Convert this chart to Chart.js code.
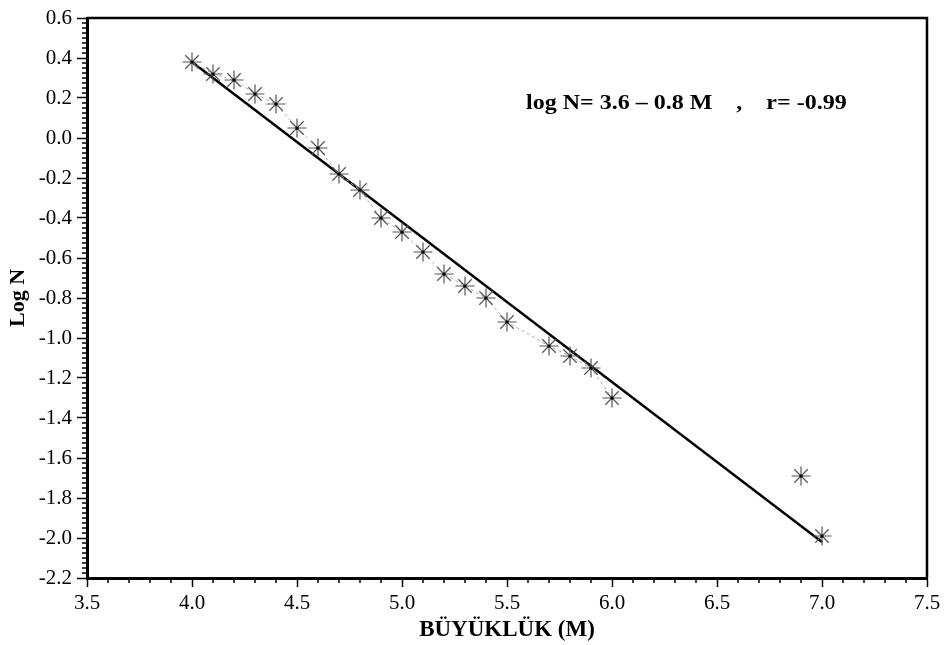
<!DOCTYPE html>
<html>
<head>
<meta charset="utf-8">
<script src="https://cdn.jsdelivr.net/npm/chart.js@4.4.1/dist/chart.umd.min.js"></script>
<style>
  html, body { margin: 0; padding: 0; background: #fff; }
  #wrap { width: 945px; height: 645px; }
</style>
</head>
<body>
<div id="wrap"><canvas id="c" width="945" height="645"></canvas></div>
<script>
// ---- data ----
const magnitudes = [4.0, 4.1, 4.2, 4.3, 4.4, 4.5, 4.6, 4.7, 4.8, 4.9, 5.0, 5.1, 5.2, 5.3, 5.4, 5.5, 5.7, 5.8, 5.9, 6.0, 6.9, 7.0];
const logN       = [0.38, 0.32, 0.29, 0.22, 0.17, 0.05, -0.05, -0.18, -0.26, -0.40, -0.47, -0.57, -0.68, -0.74, -0.80, -0.92, -1.04, -1.09, -1.15, -1.30, -1.69, -1.99];
const fitM       = [4.0, 7.0];
const fitLogN    = [0.38, -2.02];
const xTicks     = [3.5, 4.0, 4.5, 5.0, 5.5, 6.0, 6.5, 7.0, 7.5];
const yTicks     = [0.6, 0.4, 0.2, 0.0, -0.2, -0.4, -0.6, -0.8, -1.0, -1.2, -1.4, -1.6, -1.8, -2.0, -2.2];
const xTitle     = 'BÜYÜKLÜK (M)';
const yTitle     = 'Log N';
const annotation = 'log N= 3.6 – 0.8 M    ,    r= -0.99';
const connectedCount = 20; // observations joined by the faint dashed line (4.0 … 6.0)

const pts = magnitudes.map((m, i) => ({ x: m, y: logN[i] }));
const fitPts = fitM.map((m, i) => ({ x: m, y: fitLogN[i] }));

const SERIF = '"Liberation Serif", "Times New Roman", serif';

const framePlugin = {
  id: 'frame',
  afterDraw(chart) {
    const { ctx, chartArea: a, scales } = chart;
    const xs = scales.x, ys = scales.y;
    ctx.save();
    ctx.strokeStyle = '#000';
    // minor ticks
    ctx.lineWidth = 1.5;
    ctx.beginPath();
    for (let i = 35; i <= 75; i++) {
      if (i % 5 === 0) continue;
      const px = xs.getPixelForValue(i / 10);
      ctx.moveTo(px, a.bottom);
      ctx.lineTo(px, a.bottom + 5);
    }
    for (let i = -88; i <= 24; i++) {
      if (i % 8 === 0) continue;
      const py = ys.getPixelForValue(i / 40);
      ctx.moveTo(a.left - 5, py);
      ctx.lineTo(a.left, py);
    }
    ctx.stroke();
    // top and right frame
    ctx.lineWidth = 2.5;
    ctx.beginPath();
    ctx.moveTo(a.left, a.top);
    ctx.lineTo(a.right, a.top);
    ctx.lineTo(a.right, a.bottom);
    ctx.stroke();
    // annotation text
    ctx.fillStyle = '#000';
    ctx.font = 'bold 20px ' + SERIF;
    ctx.textBaseline = 'alphabetic';
    ctx.textAlign = 'left';
    ctx.translate(526, 109);
    ctx.scale(1.2, 1);
    ctx.fillText(annotation, 0, 0);
    ctx.restore();
  }
};

new Chart(document.getElementById('c'), {
  type: 'scatter',
  data: {
    datasets: [
      {
        label: 'fit',
        type: 'line',
        data: fitPts,
        borderColor: '#000',
        borderWidth: 2.5,
        pointRadius: 0,
        fill: false,
        order: 3
      },
      {
        label: 'connector',
        type: 'line',
        data: pts.slice(0, connectedCount),
        borderColor: '#a8a8a8',
        borderWidth: 1,
        borderDash: [3, 3],
        pointRadius: 0,
        fill: false,
        tension: 0,
        order: 2
      },
      {
        label: 'observed',
        data: pts,
        pointStyle: 'star',
        pointRadius: 9.5,
        pointBorderColor: '#555',
        pointBackgroundColor: '#555',
        pointBorderWidth: 1.2,
        showLine: false,
        order: 1
      },
      {
        label: 'centres',
        data: pts,
        pointStyle: 'circle',
        pointRadius: 1.6,
        pointBorderWidth: 0,
        pointBackgroundColor: '#000',
        showLine: false,
        order: 0
      }
    ]
  },
  options: {
    responsive: false,
    animation: false,
    events: [],
    layout: { padding: { left: 0, top: 18, right: 18, bottom: 1 } },
    plugins: { legend: { display: false }, tooltip: { enabled: false } },
    scales: {
      x: {
        type: 'linear',
        min: 3.5, max: 7.5,
        afterBuildTicks: s => { s.ticks = xTicks.map(v => ({ value: v })); },
        afterFit: s => { s.height = 66; },
        ticks: {
          callback: v => Number(v).toFixed(1),
          font: { family: SERIF, size: 21 },
          color: '#000',
          padding: 4,
          maxRotation: 0
        },
        grid: { drawOnChartArea: false, tickLength: 9, tickColor: '#000', tickWidth: 1.5 },
        border: { color: '#000', width: 3 },
        title: {
          display: true, text: xTitle, color: '#000',
          font: { family: SERIF, size: 23, weight: 'bold' },
          padding: { top: 0, bottom: 0 }
        }
      },
      y: {
        type: 'linear',
        min: -2.2, max: 0.6,
        afterBuildTicks: s => { s.ticks = yTicks.map(v => ({ value: v })); },
        afterFit: s => { s.width = 87; },
        ticks: {
          callback: v => Number(v).toFixed(1),
          font: { family: SERIF, size: 21 },
          color: '#000',
          padding: 5
        },
        grid: { drawOnChartArea: false, tickLength: 10, tickColor: '#000', tickWidth: 1.5 },
        border: { color: '#000', width: 3 },
        title: {
          display: true, text: yTitle, color: '#000',
          font: { family: SERIF, size: 22, weight: 'bold' },
          padding: { top: 5, bottom: 0 }
        }
      }
    }
  },
  plugins: [framePlugin]
});
</script>
</body>
</html>
